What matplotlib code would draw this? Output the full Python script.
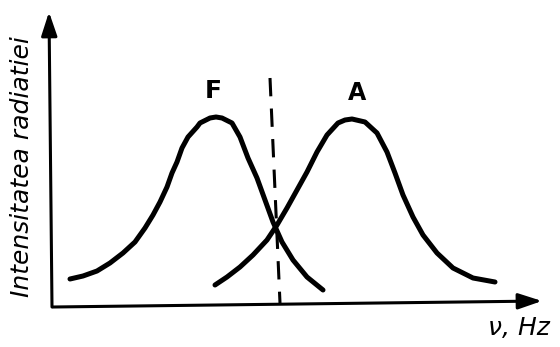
import matplotlib.pyplot as plt

# frequency / intensity samples, measured from the axis origin
f_freq = [18, 31, 45, 58, 71, 83, 93, 101, 108, 115, 120, 125, 130, 136, 145, 148, 158, 164,
          170, 180, 188, 196, 205, 213, 221, 230, 241, 255, 271]
f_int = [28, 31, 36, 44, 54, 65, 79, 92, 105, 120, 134, 145, 159, 170, 180, 184, 189, 190,
         189, 184, 170, 149, 129, 107, 85, 65, 47, 30, 17]

a_freq = [163, 175, 188, 201, 215, 225, 235, 245, 255, 265, 275, 286, 293, 300, 313, 325,
          335, 343, 351, 361, 371, 385, 401, 421, 443]
a_int = [22, 30, 40, 52, 67, 82, 99, 117, 135, 155, 172, 184, 187, 188, 185, 174,
         155, 134, 112, 90, 72, 54, 39, 29, 25]

# boundary line between the two bands
split_freq = [218, 228]
split_int = [229, 4]

# axes ends
y_axis = [(0, 0), (-3, 295)]
x_axis = [(1, 0), (490, 6)]

fig = plt.figure(figsize=(5.6, 3.47), dpi=100)
ax = fig.add_axes([0, 0, 1, 1])
ax.set_xlim(-52, 508)
ax.set_ylim(-40, 307)
ax.axis('off')

for (x0, y0), (x1, y1) in (y_axis, x_axis):
    ax.annotate('', xy=(x1, y1), xytext=(x0, y0),
                arrowprops=dict(arrowstyle='-|>,head_length=0.9,head_width=0.3',
                                lw=2.2, color='black', shrinkA=0, shrinkB=0,
                                mutation_scale=16))

ax.plot(f_freq, f_int, color='black', lw=3.6, solid_capstyle='round', solid_joinstyle='round')
ax.plot(a_freq, a_int, color='black', lw=3.6, solid_capstyle='round', solid_joinstyle='round')
ax.plot(split_freq, split_int, color='black', lw=2.2, dashes=(6, 4))

ax.text(161, 216, 'F', fontsize=18, fontweight='bold', ha='center', va='center')
ax.text(305, 214, 'A', fontsize=17, fontweight='bold', ha='center', va='center')

ax.text(-30, 140, 'Intensitatea radiatiei', rotation=90, fontsize=18, style='italic',
        ha='center', va='center', fontfamily='DejaVu Sans Condensed')
ax.text(436, -21, 'ν, Hz', fontsize=18, style='italic', ha='left', va='center',
        fontfamily='DejaVu Sans Condensed')

fig.savefig('out.png', dpi=100)
